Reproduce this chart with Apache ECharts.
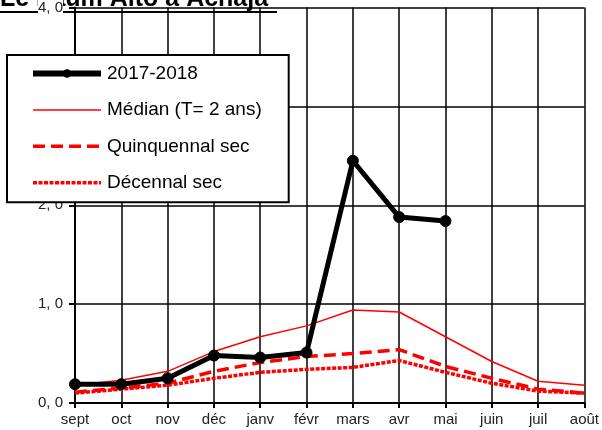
<!DOCTYPE html>
<html>
<head>
<meta charset="utf-8">
<script src="https://cdn.jsdelivr.net/npm/echarts@6/dist/echarts.min.js"></script>
<style>
  html, body { margin: 0; padding: 0; background: #fff; }
  #chart { width: 602px; height: 430px; }
</style>
</head>
<body>
<div id="chart"></div>
<script>
// months of the hydrological year
const months = ['sept', 'oct', 'nov', 'déc', 'janv', 'févr', 'mars', 'avr', 'mai', 'juin', 'juil', 'août'];

// flows
const obs2017 = [0.19, 0.19, 0.25, 0.48, 0.46, 0.51, 2.45, 1.88, 1.84, null, null, null];
const median = [0.18, 0.23, 0.32, 0.52, 0.67, 0.78, 0.94, 0.92, 0.67, 0.42, 0.22, 0.18];
const quinq = [0.11, 0.15, 0.20, 0.32, 0.41, 0.47, 0.50, 0.54, 0.37, 0.25, 0.14, 0.10];
const decen = [0.10, 0.14, 0.18, 0.25, 0.31, 0.34, 0.36, 0.43, 0.31, 0.20, 0.12, 0.10];

const yTicks = [0, 1, 2, 3, 4];

const chart = echarts.init(document.getElementById('chart'));

const option = {
  animation: false,
  backgroundColor: '#fff',
  textStyle: { fontFamily: 'Liberation Sans, Arial, sans-serif' },
  graphic: [
    {
      type: 'text',
      z: -10,
      left: 0,
      top: -13,
      style: {
        text: 'Le Laum Alto à Achaja',
        font: 'bold 25px "Liberation Sans", Arial, sans-serif',
        fill: '#000'
      }
    },
    {
      type: 'rect',
      z: -10,
      shape: { x: 0, y: 11, width: 277, height: 2 },
      style: { fill: '#000' }
    }
  ],
  grid: { left: 75, right: 15, top: 7, bottom: 27 },
  legend: {
    orient: 'vertical',
    left: 7,
    top: 55,
    padding: [9, 27, 10, 23],
    itemWidth: 68,
    itemHeight: 8,
    itemGap: 17.4,
    backgroundColor: '#fff',
    borderColor: '#000',
    borderWidth: 2,
    z: 10,
    textStyle: { fontSize: 19, color: '#000', padding: [0, 0, 0, 1] },
    data: [
      { name: '2017-2018', lineStyle: { width: 6 } },
      { name: 'Médian (T= 2 ans)', itemStyle: { opacity: 0 }, lineStyle: { width: 1.5 } },
      { name: 'Quinquennal sec', itemStyle: { opacity: 0 }, lineStyle: { width: 3.5 } },
      { name: 'Décennal sec', itemStyle: { opacity: 0 }, lineStyle: { width: 3.5 } }
    ]
  },
  xAxis: {
    type: 'category',
    data: months,
    boundaryGap: false,
    axisLine: { lineStyle: { color: '#000', width: 2 } },
    axisTick: { show: true, length: 5, lineStyle: { color: '#000', width: 2 } },
    axisLabel: { fontSize: 15, color: '#222', margin: 9 },
    splitLine: { show: true, lineStyle: { color: '#000', width: 1.5 } }
  },
  yAxis: {
    type: 'value',
    min: yTicks[0],
    max: yTicks[yTicks.length - 1],
    interval: 1,
    axisLine: { show: true, lineStyle: { color: '#000', width: 2 } },
    axisTick: { show: true, length: 6, lineStyle: { color: '#000', width: 2 } },
    axisLabel: {
      fontSize: 15,
      color: '#222',
      margin: 12,
      backgroundColor: '#fff',
      formatter: v => v.toFixed(1).replace('.', ', ')
    },
    splitLine: { show: true, lineStyle: { color: '#000', width: 1.5 } }
  },
  series: [
    {
      name: 'Médian (T= 2 ans)',
      type: 'line',
      data: median,
      symbol: 'none',
      z: 3,
      itemStyle: { color: '#ff0000' },
      lineStyle: { color: '#ff0000', width: 1.5 }
    },
    {
      name: 'Quinquennal sec',
      type: 'line',
      data: quinq,
      symbol: 'none',
      z: 3,
      itemStyle: { color: '#ff0000' },
      lineStyle: { color: '#ff0000', width: 3.5, type: [12, 6] }
    },
    {
      name: 'Décennal sec',
      type: 'line',
      data: decen,
      symbol: 'none',
      z: 3,
      itemStyle: { color: '#ff0000' },
      lineStyle: { color: '#ff0000', width: 3.5, type: [4, 1.5] }
    },
    {
      name: '2017-2018',
      type: 'line',
      data: obs2017,
      symbol: 'circle',
      symbolSize: 11,
      z: 4,
      itemStyle: { color: '#000', borderColor: '#000', borderWidth: 1 },
      lineStyle: { color: '#000', width: 5 }
    }
  ]
};

chart.setOption(option);
</script>
</body>
</html>
